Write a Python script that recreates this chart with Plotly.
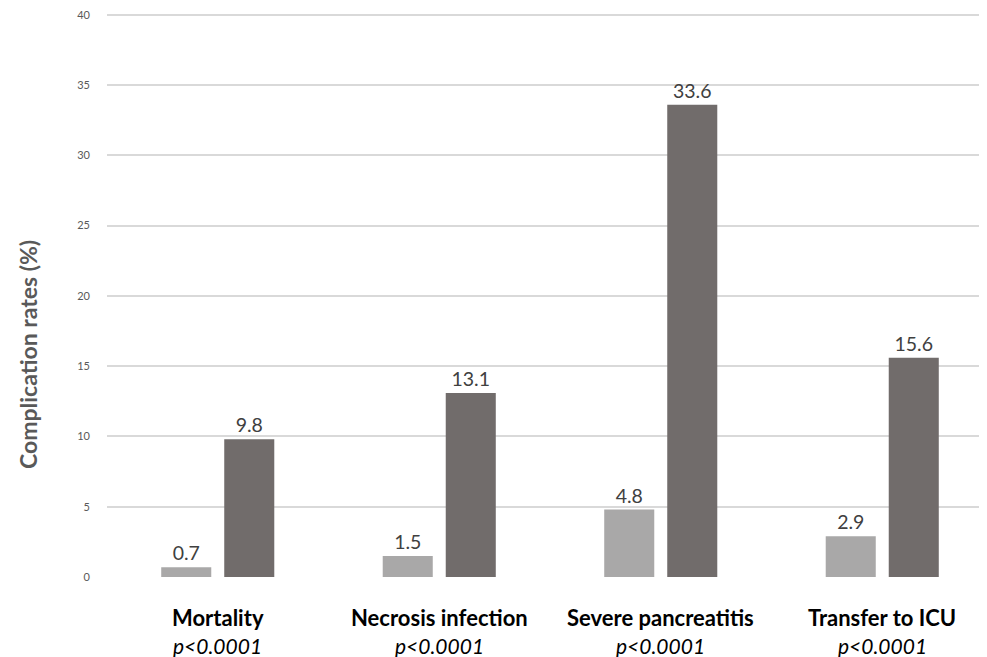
import plotly.graph_objects as go

categories = ["Mortality", "Necrosis infection", "Severe pancreatitis", "Transfer to ICU"]
p_values = ["p<0.0001", "p<0.0001", "p<0.0001", "p<0.0001"]
group_a = [0.7, 1.5, 4.8, 2.9]
group_b = [9.8, 13.1, 33.6, 15.6]
y_ticks = [0, 5, 10, 15, 20, 25, 30, 35, 40]
y_title = "Complication rates (%)"

FONT = "Lato"

fig = go.Figure()
fig.add_trace(go.Bar(
    x=categories, y=group_a, marker=dict(color="#a9a8a8", line=dict(width=0)),
    text=[f"{v:.1f}" for v in group_a], textposition="outside", cliponaxis=False,
    textfont=dict(family=FONT, size=19.5, color="#404040"), showlegend=False))
fig.add_trace(go.Bar(
    x=categories, y=group_b, marker=dict(color="#716c6b", line=dict(width=0)),
    text=[f"{v:.1f}" for v in group_b], textposition="outside", cliponaxis=False,
    textfont=dict(family=FONT, size=19.5, color="#404040"), showlegend=False))

for c, p in zip(categories, p_values):
    fig.add_annotation(x=c, xref="x", y=-0.045, yref="paper", yanchor="top",
                       text=f"<b>{c}</b>", showarrow=False,
                       font=dict(family=FONT, size=22, color="#000000"))
    fig.add_annotation(x=c, xref="x", y=-0.095, yref="paper", yanchor="top",
                       text=f"<i>{p}</i>", showarrow=False,
                       font=dict(family=FONT, size=21, color="#000000"))

fig.add_annotation(x=-0.0885, xref="paper", xanchor="center", y=0.394, yref="paper",
                   yanchor="middle", text=f"<b>{y_title}</b>", textangle=-90,
                   showarrow=False, font=dict(family=FONT, size=23, color="#595959"))

fig.update_layout(
    width=985, height=649,
    margin=dict(l=99, r=0, t=4, b=80),
    paper_bgcolor="white", plot_bgcolor="white",
    barmode="group", bargap=0.431, bargroupgap=0.206,
    xaxis=dict(showticklabels=False, showgrid=False, showline=False, ticks=""),
    yaxis=dict(range=[0, 40.2], tickvals=y_ticks, showgrid=True, gridcolor="#d9d9d9",
               gridwidth=1.5, zeroline=False, showline=False, ticks="",
               tickfont=dict(family=FONT, size=11, color="#595959"),
               ticklabeloverflow="allow",
               ticklabelstandoff=16),
)

fig.write_html("out.html")
